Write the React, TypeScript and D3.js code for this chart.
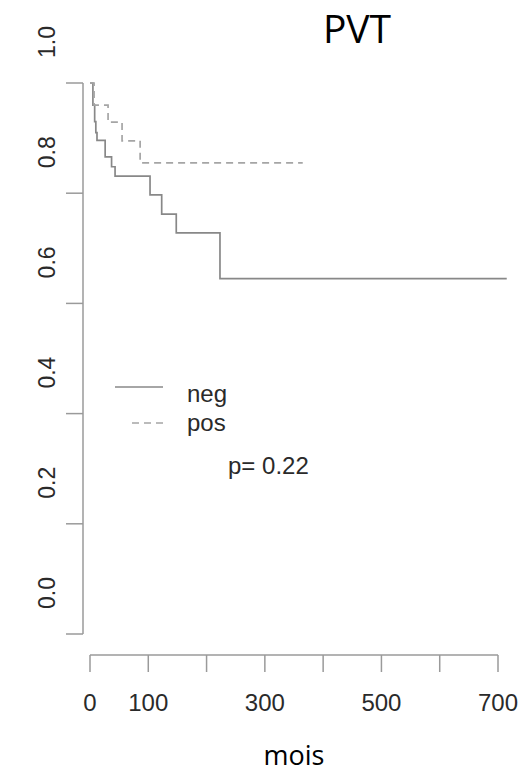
import React from "react";
import * as d3 from "d3";

// Kaplan-Meier steps (time in months, survival)
const negTimes = [0, 5, 8, 10, 12, 26, 37, 43, 103, 123, 148, 223, 715];
const negSurv = [1, 0.96, 0.93, 0.91, 0.896, 0.866, 0.848, 0.831, 0.797, 0.762, 0.728, 0.645, 0.645];
const posTimes = [0, 7, 31, 55, 86, 365];
const posSurv = [1, 0.96, 0.929, 0.895, 0.855, 0.855];

const yTicks = [0, 0.2, 0.4, 0.6, 0.8, 1.0];
const xTicks = [0, 100, 200, 300, 400, 500, 600, 700];
const xLabels = [0, 100, 300, 500, 700];

const W = 521;
const H = 776;
const RFONT = "'Liberation Sans', Arial, sans-serif";

export default function App() {
  const x = d3.scaleLinear().domain([0, 700]).range([90, 498]);
  const y = d3.scaleLinear().domain([0, 1]).range([634, 83]);

  const line = d3
    .line<[number, number]>()
    .x((d) => x(d[0]))
    .y((d) => y(d[1]))
    .curve(d3.curveStepAfter);

  const neg = negTimes.map((t, i) => [t, negSurv[i]] as [number, number]);
  const pos = posTimes.map((t, i) => [t, posSurv[i]] as [number, number]);

  const axisCol = "#9a9a9a";
  const textCol = "#2a2a2a";

  return (
    <svg
      width={W}
      height={H}
      style={{ position: "absolute", left: 0, top: 0, background: "#fff" }}
    >
      {/* title */}
      <text x={357} y={43} textAnchor="middle" fontFamily="'Open Sans', sans-serif" fontSize={39} fill="#000">
        PVT
      </text>

      {/* y axis */}
      <line x1={83} x2={83} y1={y(1)} y2={y(0)} stroke={axisCol} strokeWidth={1.5} />
      {yTicks.map((v) => (
        <g key={v}>
          <line x1={66} x2={83} y1={y(v)} y2={y(v)} stroke={axisCol} strokeWidth={1.5} />
          <text
            transform={`translate(47,${y(v) - 41}) rotate(-90)`}
            textAnchor="middle"
            dominantBaseline="central"
            fontFamily={RFONT}
            fontSize={23}
            fill={textCol}
          >
            {v.toFixed(1)}
          </text>
        </g>
      ))}

      {/* x axis */}
      <line x1={x(0)} x2={x(700)} y1={655} y2={655} stroke={axisCol} strokeWidth={1.5} />
      {xTicks.map((v) => (
        <line key={v} x1={x(v)} x2={x(v)} y1={655} y2={672} stroke={axisCol} strokeWidth={1.5} />
      ))}
      {xLabels.map((v) => (
        <text
          key={v}
          x={x(v)}
          y={711}
          textAnchor="middle"
          fontFamily={RFONT}
          fontSize={24}
          fill={textCol}
        >
          {v}
        </text>
      ))}
      <text x={294} y={765} textAnchor="middle" fontFamily="'Open Sans', sans-serif" fontSize={27} fill="#000">
        mois
      </text>

      {/* curves */}
      <path d={line(neg) ?? ""} fill="none" stroke="#888" strokeWidth={1.7} />
      <path d={line(pos) ?? ""} fill="none" stroke="#a5a5a5" strokeWidth={1.7} strokeDasharray="7,5" />

      {/* legend */}
      <line x1={115} x2={163} y1={387} y2={387} stroke="#888" strokeWidth={1.7} />
      <line x1={132} x2={167} y1={423} y2={423} stroke="#a5a5a5" strokeWidth={1.7} strokeDasharray="7,5" />
      <text x={187} y={393} dominantBaseline="central" fontFamily={RFONT} fontSize={24} fill={textCol}>
        neg
      </text>
      <text x={187} y={422} dominantBaseline="central" fontFamily={RFONT} fontSize={24} fill={textCol}>
        pos
      </text>

      {/* p-value */}
      <text x={228} y={465} dominantBaseline="central" fontFamily={RFONT} fontSize={24} fill={textCol}>
        p= 0.22
      </text>
    </svg>
  );
}
